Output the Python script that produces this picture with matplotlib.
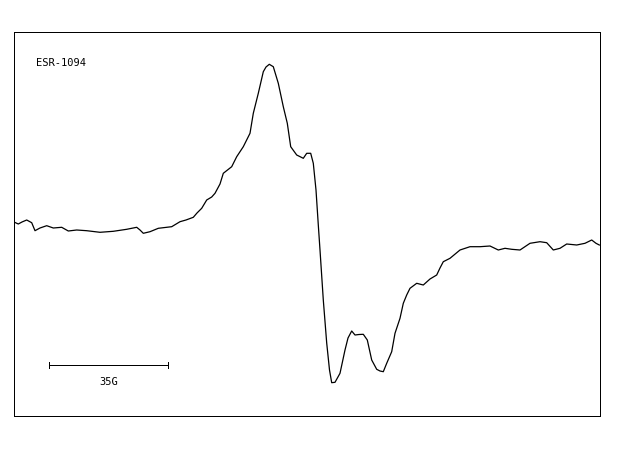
import matplotlib
matplotlib.use("Agg")
import matplotlib.pyplot as plt

# Field position (arbitrary units, scale bar of 119 units = 35 G) and signal (screen-down units)
field = [14, 18.3, 22, 26.7, 31.7, 35, 40, 46.7, 53.3, 61.7, 68.3, 76.7, 86.7, 100,
         113.3, 126.7, 136.7, 140, 143.3, 150, 158.3, 171.7, 180, 186, 193.3, 197,
         201.7, 206.7, 211.7, 215, 220, 223.3, 231.7, 236.7, 243.3, 250, 253.3,
         258.3, 263.3, 266, 269.3, 273.3, 278.3, 283.3, 287.3, 290.7, 296.7, 303.3,
         306.7, 310.7, 313.3, 316, 318.3, 320, 323.3, 326.7, 329.5, 331.7, 335, 340,
         345, 348, 351.7, 355, 359, 363.3, 367.3, 371.7, 376.7, 380, 383.3, 386.7,
         391.7, 395, 400, 403.3, 406.7, 410, 416.7, 423.3, 430, 436.7, 440, 443.3,
         450, 460, 470, 480, 490, 498.3, 505, 511.7, 520, 530, 540, 546.7, 553.3,
         560, 566.7, 576.7, 585, 591.7, 596, 599.3]
signal = [222, 224, 222, 220, 222.7, 230.7, 228, 225.7, 228, 227.3, 231, 230, 230.7, 232.3,
          231.3, 229.3, 227.3, 230, 233.3, 231.7, 228.3, 226.7, 221.7, 220, 217.3, 213,
          208.3, 200, 197, 193.3, 184, 173.3, 166.7, 156.7, 146.7, 133.3, 113.3,
          93.3, 71.7, 67, 64.3, 66.7, 83.3, 106.7, 123.3, 146.7, 155, 158.3,
          153.3, 153.3, 163.3, 190, 225, 250, 300, 343, 370, 382.7, 382.3, 373.3,
          350, 338, 331, 335, 334.5, 334.3, 340, 360, 369.3, 371, 371.7, 363.3,
          351.7, 333.3, 318.3, 303.3, 295, 288.3, 283.3, 285, 279, 275, 268, 261.7,
          258.3, 250, 246.7, 246.7, 246, 250, 248.3, 249.3, 250, 243.3, 241.7, 242.7, 250,
          248.3, 244, 245, 243.3, 240, 243.3, 245]

label_text = "ESR-1094"
scale_label = "35G"
scale_start, scale_end, scale_level = 49.3, 168.3, 365

LW = 0.72
fig = plt.figure(figsize=(6.2, 4.55), dpi=100)
ax = fig.add_axes([14/620, (455-416)/455, 586/620, 384/455])
ax.plot(field, signal, color="black", lw=0.9, antialiased=True)
ax.set_xlim(14, 600)
ax.set_ylim(416, 32)
ax.set_xticks([])
ax.set_yticks([])
for s in ax.spines.values():
    s.set_linewidth(LW)
    s.set_color("black")

ax.text(36, 63.3, label_text, fontsize=7.5, family="DejaVu Sans Mono", va="center", ha="left")
ax.plot([scale_start, scale_end], [scale_level, scale_level], color="black", lw=LW, antialiased=False)
for xe in (scale_start, scale_end):
    ax.plot([xe, xe], [scale_level - 3, scale_level + 3], color="black", lw=LW, antialiased=False)
ax.text((scale_start + scale_end) / 2, 382.3, scale_label, fontsize=7.5,
        family="DejaVu Sans Mono", va="center", ha="center")

fig.savefig("out.png", dpi=100)
